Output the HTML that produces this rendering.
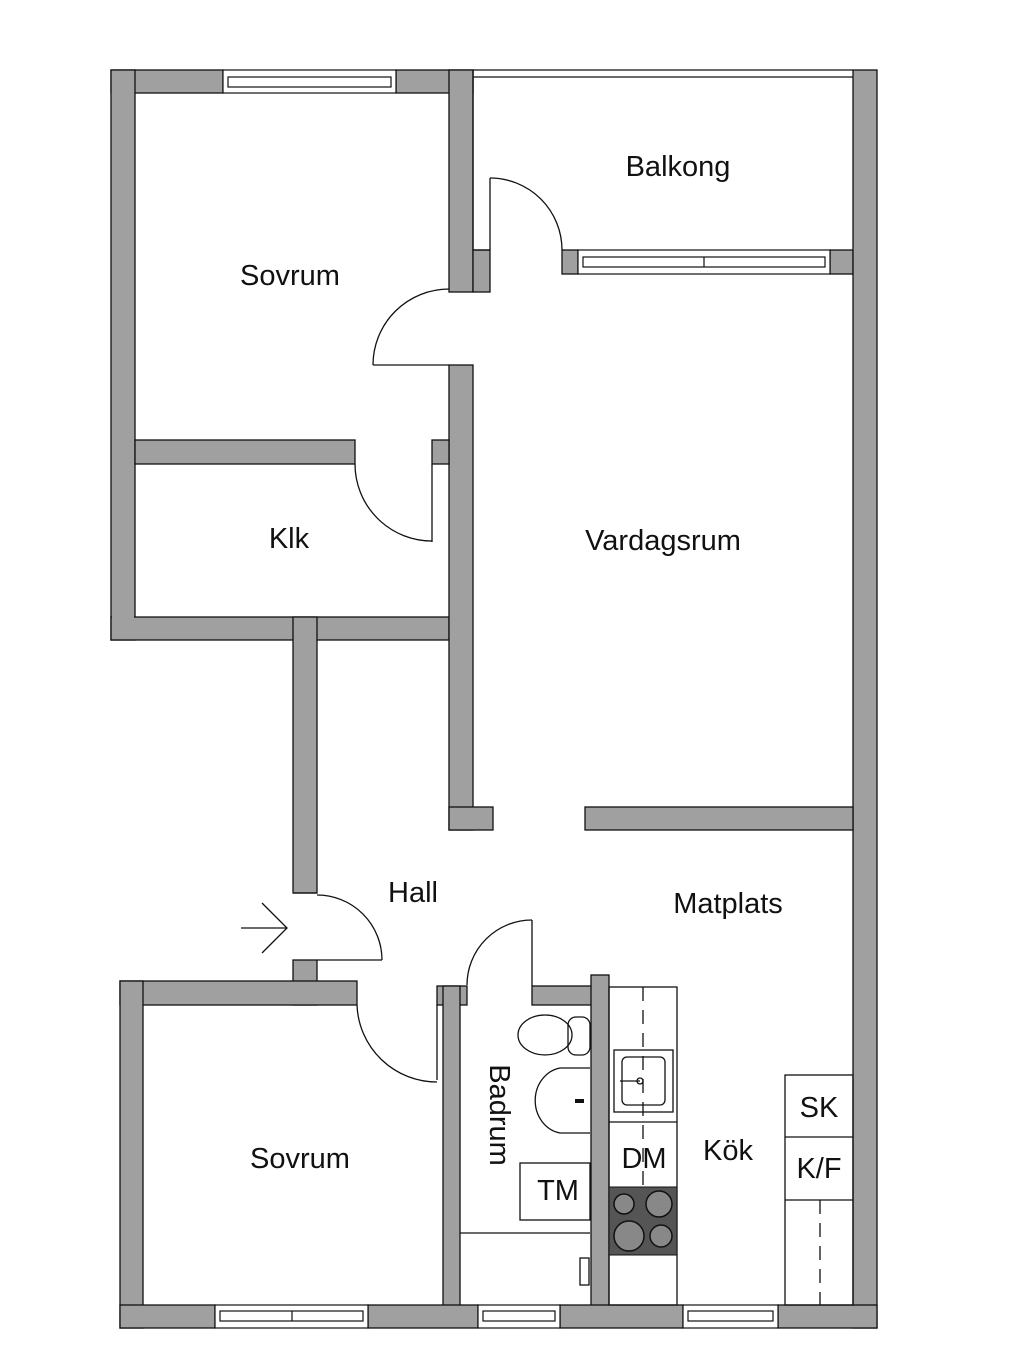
<!DOCTYPE html>
<html><head><meta charset="utf-8"><style>
html,body{margin:0;padding:0;background:#fff;width:1024px;height:1348px;overflow:hidden}
text{font-family:"Liberation Sans",sans-serif;fill:#111}
</style></head><body>
<svg width="1024" height="1348" viewBox="0 0 1024 1348" xmlns="http://www.w3.org/2000/svg">
<g fill="#a0a0a0" stroke="#111" stroke-width="1.3">
<rect x="111" y="70" width="112" height="23"/>
<rect x="396" y="70" width="77" height="23"/>
<rect x="111" y="70" width="24" height="570"/>
<rect x="111" y="617" width="338" height="23"/>
<rect x="293" y="617" width="24" height="276"/>
<rect x="293" y="960" width="24" height="45"/>
<rect x="449" y="70" width="24" height="222"/>
<rect x="449" y="365" width="24" height="465"/>
<rect x="449" y="807" width="44" height="23"/>
<rect x="473" y="250" width="17" height="42"/>
<rect x="562" y="250" width="16" height="24"/>
<rect x="830" y="250" width="23" height="24"/>
<rect x="853" y="70" width="24" height="1258"/>
<rect x="585" y="807" width="268" height="23"/>
<rect x="135" y="440" width="220" height="24"/>
<rect x="432" y="440" width="17" height="24"/>
<rect x="120" y="981" width="237" height="24"/>
<rect x="120" y="981" width="23" height="347"/>
<rect x="437" y="986" width="30" height="19"/>
<rect x="443" y="986" width="17" height="320"/>
<rect x="532" y="986" width="76" height="19"/>
<rect x="591" y="975" width="18" height="331"/>
<rect x="120" y="1305" width="95" height="23"/>
<rect x="368" y="1305" width="110" height="23"/>
<rect x="560" y="1305" width="123" height="23"/>
<rect x="778" y="1305" width="99" height="23"/>
</g>
<g fill="#a0a0a0">
<rect x="112" y="71" width="22" height="568"/>
<rect x="112" y="618" width="180" height="21"/>
<rect x="294" y="618" width="22" height="21"/>
<rect x="450" y="71" width="22" height="21"/>
<rect x="450" y="808" width="22" height="21"/>
<rect x="854" y="251" width="22" height="22"/>
<rect x="854" y="808" width="22" height="21"/>
<rect x="121" y="982" width="21" height="22"/>
<rect x="294" y="982" width="22" height="22"/>
<rect x="444" y="987" width="15" height="17"/>
<rect x="592" y="987" width="16" height="17"/>
<rect x="121" y="1306" width="21" height="21"/>
<rect x="444" y="1306" width="15" height="21"/>
<rect x="592" y="1306" width="16" height="21"/>
<rect x="854" y="1306" width="22" height="21"/>
</g>
<g fill="#fff" stroke="#111" stroke-width="1.2">
<rect x="223" y="70" width="173" height="23"/><rect x="228" y="77" width="163" height="10"/>
<rect x="578" y="250" width="252" height="24"/><rect x="583" y="257" width="242" height="10"/><line x1="704" y1="257" x2="704" y2="267"/>
<rect x="215" y="1305" width="153" height="23"/><rect x="220" y="1311" width="143" height="10"/><line x1="292" y1="1311" x2="292" y2="1321"/>
<rect x="478" y="1305" width="82" height="23"/><rect x="483" y="1311" width="72" height="10"/>
<rect x="683" y="1305" width="95" height="23"/><rect x="688" y="1311" width="85" height="10"/>
</g>
<g stroke="#111" stroke-width="1.3" fill="none">
<line x1="473" y1="70" x2="853" y2="70"/><line x1="473" y1="77" x2="853" y2="77"/>
<line x1="473" y1="70" x2="473" y2="250"/><line x1="473" y1="250" x2="490" y2="250"/>
<line x1="490" y1="250" x2="490" y2="178"/><path d="M490 178 A72 72 0 0 1 562 250"/>
<line x1="449" y1="365" x2="373" y2="365"/><path d="M373 365 A76 76 0 0 1 449 289"/>
<line x1="432" y1="464" x2="432" y2="542"/><path d="M355 464 A77 77 0 0 0 432 541"/>
<line x1="317" y1="960" x2="382" y2="960"/><path d="M382 960 A65 65 0 0 0 317 895"/><line x1="293" y1="893" x2="317" y2="893"/>
<line x1="437" y1="1005" x2="437" y2="1080"/><path d="M357 1005 A80 80 0 0 0 437 1082"/>
<line x1="532" y1="986" x2="532" y2="920"/><path d="M532 920 A65 65 0 0 0 467 985"/>
<line x1="241" y1="928" x2="287" y2="928"/><polyline points="262,903 287,928 262,953"/>
<rect x="609" y="987" width="68" height="318"/>
<line x1="609" y1="1122" x2="677" y2="1122"/>
<line x1="643" y1="987" x2="643" y2="1187" stroke-dasharray="14,9"/>
<rect x="614" y="1050" width="59" height="62"/><rect x="622" y="1057" width="43" height="48" rx="5"/>
<line x1="620" y1="1081" x2="640" y2="1081"/><circle cx="640" cy="1081" r="3"/>
<rect x="785" y="1075" width="68" height="230"/>
<line x1="785" y1="1137" x2="853" y2="1137"/><line x1="785" y1="1200" x2="853" y2="1200"/>
<line x1="820" y1="1200" x2="820" y2="1305" stroke-dasharray="14,9"/>
<ellipse cx="545" cy="1035" rx="27" ry="20"/><rect x="568" y="1017" width="22" height="38" rx="8"/>
<path d="M590 1068 L560 1068 A30 33 0 0 0 560 1133 L590 1133"/>
<line x1="575" y1="1101" x2="584" y2="1101" stroke-width="4"/>
<rect x="520" y="1163" width="70" height="57"/>
<line x1="460" y1="1233" x2="590" y2="1233"/>
<rect x="580" y="1258" width="9" height="27"/>
</g>
<rect x="609" y="1187" width="68" height="68" fill="#555" stroke="#111"/>
<g fill="#888" stroke="#111" stroke-width="1.5">
<circle cx="624" cy="1204" r="10"/><circle cx="659" cy="1204" r="13"/>
<circle cx="629" cy="1236" r="15"/><circle cx="661" cy="1236" r="11"/>
</g>
<g font-size="29">
<text x="290" y="285" text-anchor="middle">Sovrum</text>
<text x="678" y="176" text-anchor="middle">Balkong</text>
<text x="289" y="548" text-anchor="middle">Klk</text>
<text x="663" y="550" text-anchor="middle">Vardagsrum</text>
<text x="413" y="902" text-anchor="middle">Hall</text>
<text x="728" y="913" text-anchor="middle">Matplats</text>
<text x="300" y="1168" text-anchor="middle">Sovrum</text>
<text x="728" y="1160" text-anchor="middle">Kök</text>
<text x="644" y="1168" text-anchor="middle">DM</text>
<text x="819" y="1117" text-anchor="middle">SK</text>
<text x="819" y="1178" text-anchor="middle">K/F</text>
<text x="558" y="1200" text-anchor="middle">TM</text>
<text x="0" y="0" text-anchor="middle" transform="translate(490 1115) rotate(90)">Badrum</text>
</g>
</svg>
</body></html>
